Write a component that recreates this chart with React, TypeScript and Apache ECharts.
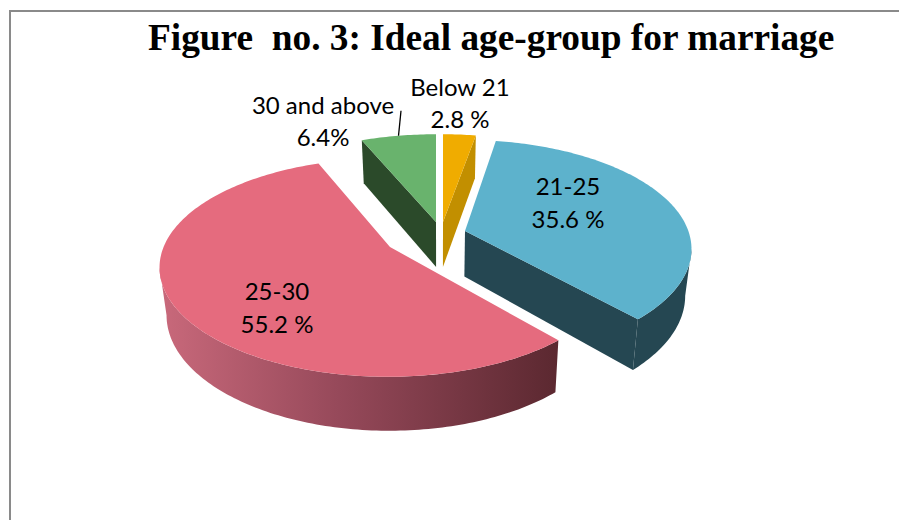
import React, { useEffect, useRef } from "react";
import * as echarts from "echarts";

// Survey shares, clockwise from twelve o'clock
const sliceNames = ["Below 21", "21-25", "25-30", "30 and above"];
const sliceValues = [2.8, 35.6, 55.2, 6.4];
const valueLabels = ["2.8 %", "35.6 %", "55.2 %", "6.4%"];
const chartTitle = "Figure  no. 3: Ideal age-group for marriage";

// Per-slice styling and placement of the exploded tilted pie
const topColors = ["#F0AC00", "#5DB2CC", "#E56B7E", "#69B36D"];
const wallColors = ["#C28F00", "#254752", "#5B2830", "#2B4A2A"];
const apexes = [[443, 222], [465, 231], [390, 247], [436, 222]];
const rimCentres = [[443, 222], [463, 227.5], [388, 246], [436, 222]];
const angleNudges = [0, 0, 1.5, 0];
const nameAnchors = [[460, 86], [568, 185], [277, 290], [323, 104]];
const valueAnchors = [[460, 118], [568, 218], [277, 323], [323, 136]];

// Projection of the tilted disc: unit circle to screen offsets
const RX = 224;
const RY = 105;
const PERSPECTIVE = 0.197;
const toRad = (d: number) => (d * Math.PI) / 180;

function rim(centre: number[], deg: number): number[] {
  const X = Math.sin(toRad(deg));
  const Y = Math.cos(toRad(deg));
  const w = 1 + PERSPECTIVE * Y;
  return [centre[0] + (RX * X) / w, centre[1] - (RY * Y) / w];
}

// Where a point of the top face lands on the bottom face of the extrusion
function lower(p: number[]): number[] {
  const dy = p[1] - 222;
  return [p[0] - (p[0] - 440) * 0.025, p[1] + 45 + dy * (dy < 0 ? 0.025 : 0.058)];
}

const total = sliceValues.reduce((a, b) => a + b, 0);
const startAngles: number[] = [];
sliceValues.reduce((acc, v, i) => {
  startAngles[i] = (acc / total) * 360;
  return acc + v;
}, 0);

function arcPoints(centre: number[], from: number, to: number): number[][] {
  const n = Math.max(2, Math.ceil(Math.abs(to - from)));
  const pts: number[][] = [];
  for (let i = 0; i <= n; i++) pts.push(rim(centre, from + ((to - from) * i) / n));
  return pts;
}

const renderSlice = (params: any, api: any) => {
  const i = params.dataIndex;
  const value = api.value(0) as number;
  const start = startAngles[i] + angleNudges[i];
  const end = start + (value / total) * 360;
  const apex = apexes[i];
  const centre = rimCentres[i];
  const lowApex = lower(apex);
  const children: any[] = [];

  const wallFill =
    i === 2
      ? new echarts.graphic.LinearGradient(0, 0, 1, 0, [
          { offset: 0, color: "#C9697B" },
          { offset: 0.45, color: "#96495A" },
          { offset: 1, color: wallColors[i] },
        ])
      : wallColors[i];

  // Flat cut faces, only when they turn towards the viewer
  const addCut = (deg: number) => {
    const c = rim(centre, deg);
    children.push({
      type: "polygon",
      shape: { points: [apex, c, lower(c), lowApex] },
      style: { fill: wallColors[i] },
    });
  };
  if (Math.cos(toRad(start - 90)) < 0) addCut(start);
  if (Math.cos(toRad(end + 90)) < 0) addCut(end);

  // Outer wall along the near part of the rim
  const HORIZON = 101.4;
  const wallFrom = Math.max(start, HORIZON);
  const wallTo = Math.min(end, 360 - HORIZON);
  if (wallTo > wallFrom) {
    const upper = arcPoints(centre, wallFrom, wallTo);
    children.push({
      type: "polygon",
      shape: { points: [...upper, ...upper.map(lower).reverse()] },
      style: { fill: wallFill },
    });
  }

  // Top face
  children.push({
    type: "polygon",
    shape: { points: [apex, ...arcPoints(centre, start, end)] },
    style: { fill: topColors[i] },
  });

  // Leader from the rim of the narrow green slice up to its label
  if (i === 3) {
    const from = rim(centre, (start + end) / 2);
    children.push({
      type: "line",
      shape: { x1: from[0], y1: from[1], x2: from[0] + 2.5, y2: from[1] - 25 },
      style: { stroke: "#000", lineWidth: 1.3 },
    });
  }

  const label = (text: string, at: number[]) => ({
    type: "text",
    z2: 10,
    style: {
      text,
      x: at[0],
      y: at[1],
      align: "center",
      verticalAlign: "middle",
      fill: "#000",
      font: '24px Lato, sans-serif',
    },
  });
  children.push(label(sliceNames[i], nameAnchors[i]));
  children.push(label(valueLabels[i], valueAnchors[i]));

  return { type: "group", children };
};

export default function App() {
  const ref = useRef<HTMLDivElement>(null);
  useEffect(() => {
    const chart = echarts.init(ref.current!, null, { renderer: "svg" });
    chart.setOption({
      animation: false,
      backgroundColor: "#fff",
      title: {
        text: chartTitle,
        left: 148,
        top: 19,
        padding: 0,
        textStyle: {
          fontFamily: '"Liberation Serif", serif',
          fontWeight: "bold",
          fontSize: 37.35,
          color: "#000",
        },
      },
      graphic: [
        {
          type: "line",
          shape: { x1: 10, y1: 10, x2: 10, y2: 520 },
          style: { stroke: "#8A8A8A", lineWidth: 2 },
        },
        {
          type: "line",
          shape: { x1: 9, y1: 11, x2: 899, y2: 11 },
          style: { stroke: "#8A8A8A", lineWidth: 2 },
        },
      ],
      series: [
        {
          type: "custom",
          coordinateSystem: "none",
          renderItem: renderSlice,
          data: sliceValues.map((v, i) => ({ name: sliceNames[i], value: [v] })),
        },
      ],
    });
    return () => chart.dispose();
  }, []);
  return (
    <div
      ref={ref}
      style={{ position: "fixed", left: 0, top: 0, width: 899, height: 520 }}
    />
  );
}
